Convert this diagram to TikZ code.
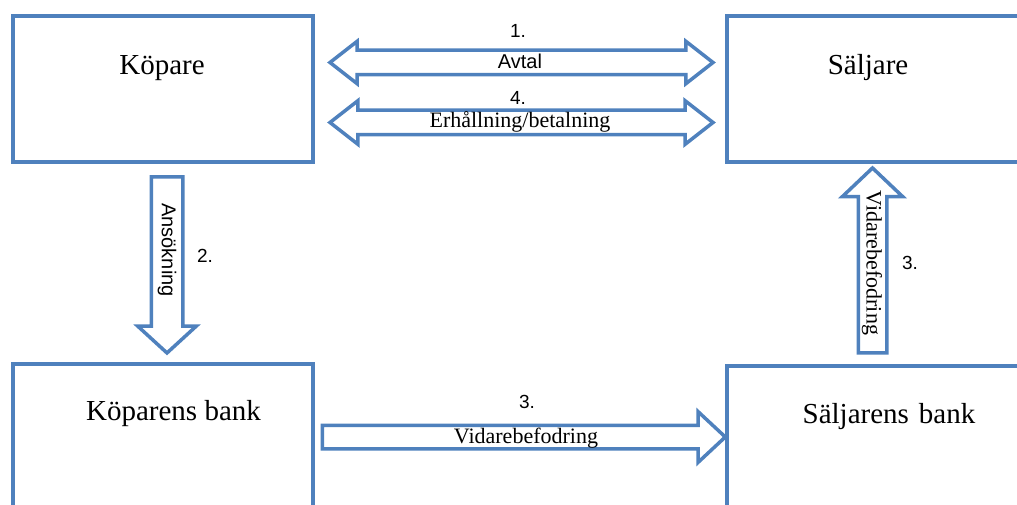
\documentclass[tikz,border=0pt]{standalone}
\usepackage{fontspec}
\setmainfont{Liberation Serif}
\setsansfont{Liberation Sans}
\usetikzlibrary{shapes.arrows,calc}
\definecolor{frame}{HTML}{4F81BD}
\begin{document}
\begin{tikzpicture}[x=1pt,y=-1pt,
  party/.style={draw=frame,line width=3.5pt,minimum width=300pt,minimum height=146pt,inner sep=0pt},
  partylabel/.style={font=\fontsize{29}{31}\selectfont,anchor=base,inner sep=0pt},
  flow/.style={draw=frame,line width=3.5pt,fill=white},
  numlabel/.style={font=\sffamily\fontsize{19}{21}\selectfont,anchor=base,inner sep=0pt},
  sanslabel/.style={font=\sffamily\fontsize{20}{22}\selectfont,anchor=base,inner sep=0pt},
  seriflabel/.style={font=\fontsize{22}{24}\selectfont,anchor=base,inner sep=0pt}
]
\useasboundingbox (0,0) rectangle (1017,505);
\clip (0,0) rectangle (1017,505);

% the four parties
\node[party] (buyer)      at (163,89)  {};
\node[party] (seller)     at (877,89)  {};
\node[party] (buyerbank)  at (163,437) {};
\node[party] (sellerbank) at (877,439) {};

% block arrows between the parties
\node[flow, double arrow, inner sep=10.5pt, minimum height=383pt,
      double arrow head extend=9pt, double arrow tip angle=76] (deal)
      at ($(buyer.east)!0.5!(seller.west)+(1.5,-26.5)$) {};
\node[flow, double arrow, inner sep=10.5pt, minimum height=383pt,
      double arrow head extend=9.5pt, double arrow tip angle=76] (pay)
      at ($(buyer.east)!0.5!(seller.west)+(1.5,33.5)$) {};
\node[flow, single arrow, shape border rotate=270, inner sep=14pt, minimum height=176pt,
      single arrow head extend=13.5pt, single arrow tip angle=95] (apply)
      at ($(buyer.south)+(4,94)$) {};
\node[flow, single arrow, inner sep=10pt, minimum height=403pt,
      single arrow head extend=13.5pt, single arrow tip angle=86] (forward)
      at ($(buyerbank.east)!0.5!(sellerbank.west)+(-2.5,-1)$) {};
\node[flow, single arrow, shape border rotate=90, inner sep=12.5pt, minimum height=185pt,
      single arrow head extend=16pt, single arrow tip angle=93] (relay)
      at ($(seller.south)+(-4.5,103.5)$) {};

% party names
\node[partylabel] (tbuyer)      at (162,75)   {Köpare};
\node[partylabel] (tseller)     at (868,75)   {Säljare};
\node[partylabel] (tbuyerbank)  at (173.5,420) {Köparens bank};
\node[partylabel] (tsellerbank) at (889,423)  {Säljarens\hspace{10pt}bank};

% step numbers and arrow captions
\node[numlabel] (n1) at (518,38) {1.};
\node[sanslabel] (tdeal) at (520,69) {Avtal};
\node[numlabel] (n4) at (518,105) {4.};
\node[seriflabel] (tpay) at (520,128) {Erhållning/betalning};
\node[numlabel] (n2) at (205,262) {2.};
\node[sanslabel, rotate=-90, anchor=center] (tapply) at (167,250) {Ansökning};
\node[seriflabel, rotate=-90, anchor=center] (trelay) at (872,263) {Vidarebefodring};
\node[numlabel] (n3a) at (910,269) {3.};
\node[numlabel] (n3b) at (527,408) {3.};
\node[seriflabel] (tforward) at (526,443) {Vidarebefodring};
\end{tikzpicture}
\end{document}
